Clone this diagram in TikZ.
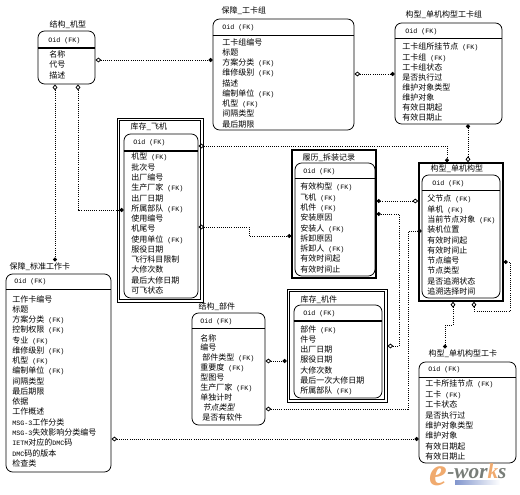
\documentclass[tikz,border=0pt]{standalone}
\usepackage{fontspec}
\usepackage{tikz}
\usetikzlibrary{arrows.meta}
\usetikzlibrary{fit}
\newfontfamily\cjk{Noto Sans CJK SC}
\newfontfamily\cjkslant[FakeSlant=0.25]{Noto Sans CJK SC}
\newfontfamily\monof{Liberation Mono}
\newfontfamily\logof{Liberation Serif}
\newcommand{\mn}[1]{{\monof\fontsize{5}{7.7}\selectfont #1}}
\newcommand{\fk}{\mn{\ (FK)}}
\definecolor{logoorange}{RGB}{240,170,110}
\definecolor{logogray}{RGB}{120,125,120}
\definecolor{logoblue}{RGB}{130,150,205}
\tikzset{
	card/.style={draw,rounded corners=5pt,inner sep=0pt,line width=0.6pt},
	frame/.style={draw,inner sep=0pt,line width=0.6pt},
	heavy/.style={draw,inner sep=0pt,line width=1.1pt},
	title/.style={anchor=west,inner sep=1pt,font=\cjk\fontsize{6}{7.7}\selectfont},
	rows/.style={anchor=north west,inner sep=0pt,align=left,font=\cjk\fontsize{6}{#1}\selectfont},
	rows/.default=7.7,
	oid/.style={anchor=west,inner sep=0pt,font=\monof\fontsize{5}{7.7}\selectfont},
	link/.style={densely dotted,line width=0.6pt},
	dia/.tip={Diamond[open,length=4.5pt,width=3.6pt,line width=0.6pt]},
	dot/.tip={Circle[length=3pt]}
}

\begin{document}
\begin{tikzpicture}[x=0.75pt,y=-0.75pt]
	\useasboundingbox (0,0) rectangle (520,495);

	% ==================================================
	% 1. PLAIN CARDS
	% ==================================================
	% jixing
	\node[card,fit={(38,31)(95,84)}] (jixing) {};
	\draw[line width=0.9pt] (jixing.west |- 0,48) -- (jixing.east |- 0,48);
	\node[title] (jixingT) at (48,25) {结构\_机型};
	\node[oid] (jixingO) at (48,40.5) {Oid (FK)};
	\node[rows] (jixingR) at (49,50.5) {名称\\代号\\描述};

	% gongkazu
	\node[card,fit={(213,19)(354,130)}] (gongkazu) {};
	\draw (gongkazu.west |- 0,35) -- (gongkazu.east |- 0,35);
	\node[title] (gongkazuT) at (220,11) {保障\_工卡组};
	\node[oid] (gongkazuO) at (222,28) {Oid (FK)};
	\node[rows] (gongkazuR) at (222,38) {工卡组编号\\标题\\方案分类\fk\\维修级别\fk\\描述\\编制单位\fk\\机型\fk\\间隔类型\\最后期限};

	% danjizu
	\node[card,fit={(395,23)(502,124)}] (danjizu) {};
	\draw (danjizu.west |- 0,38) -- (danjizu.east |- 0,38);
	\node[title] (danjizuT) at (404,15) {构型\_单机构型工卡组};
	\node[oid] (danjizuO) at (405,32) {Oid (FK)};
	\node[rows=7.6] (danjizuR) at (402,43) {工卡组所挂节点\fk\\工卡组\fk\\工卡组状态\\是否执行过\\维护对象类型\\维护对象\\有效日期起\\有效日期止};

	% bujian
	\node[card,fit={(192,313)(265,425)}] (bujian) {};
	\draw (bujian.west |- 0,328) -- (bujian.east |- 0,328);
	\node[title] (bujianT) at (197,307) {结构\_部件};
	\node[oid] (bujianO) at (200,322) {Oid (FK)};
	\node[rows=7.43] (bujianR) at (200,334) {名称\\编号\\\hspace{1.5pt}部件类型\fk\\重要度\fk\\型图号\\生产厂家\fk\\单独计时\\\hspace{1.5pt}{\cjkslant 节点类型}\\\hspace{1.5pt}是否有软件};

	% biaozhun
	\node[card,fit={(6,274)(111,472)}] (biaozhun) {};
	\draw (biaozhun.west |- 0,289) -- (biaozhun.east |- 0,289);
	\node[title] (biaozhunT) at (8,267) {保障\_标准工作卡};
	\node[oid] (biaozhunO) at (14,282) {Oid (FK)};
	\node[rows] (biaozhunR) at (12,295) {工作卡编号\\标题\\方案分类\fk\\控制权限\fk\\专业\fk\\维修级别\fk\\机型\fk\\编制单位\fk\\间隔类型\\最后期限\\依据\\工作概述\\\mn{MSG-3}工作分类\\\mn{MSG-3}失效影响分类编号\\\mn{IETM}对应的\mn{DMC}码\\\mn{DMC}码的版本\\检查类};

	% danjika
	\node[card,fit={(419,362)(516,463)}] (danjika) {};
	\draw (danjika.west |- 0,377) -- (danjika.east |- 0,377);
	\node[title] (danjikaT) at (427,354) {构型\_单机构型工卡};
	\node[oid] (danjikaO) at (428,370) {Oid (FK)};
	\node[rows=7.8] (danjikaR) at (425,380) {工卡所挂节点\fk\\工卡\fk\\工卡状态\\是否执行过\\维护对象类型\\维护对象\\有效日期起\\有效日期止};

	% ==================================================
	% 2. FRAMED CARDS
	% ==================================================
	% feiji
	\node[frame,fit={(117,118)(203,302)}] (feijiF) {};
	\node[frame,fit={(119.5,120.5)(200.5,299.5)}] (feijiG) {};
	\node[card,fit={(124,134)(198,298)}] (feiji) {};
	\draw[line width=0.9pt] (feiji.west |- 0,151) -- (feiji.east |- 0,151);
	\node[title] (feijiT) at (129,127) {库存\_飞机};
	\node[oid] (feijiO) at (133,143) {Oid (FK)};
	\node[rows] (feijiR) at (131,153) {机型\fk\\批次号\\出厂编号\\生产厂家\fk\\出厂日期\\所属部队\fk\\使用编号\\机尾号\\使用单位\fk\\服役日期\\飞行科目限制\\大修次数\\最后大修日期\\可飞状态};

	% lvli
	\node[heavy,fit={(292,150)(376,278)}] (lvliF) {};
	\node[card,fit={(295,163)(375,276)}] (lvli) {};
	\draw (lvli.west |- 0,178) -- (lvli.east |- 0,178);
	\node[title] (lvliT) at (301,158) {履历\_拆装记录};
	\node[oid] (lvliO) at (303,172) {Oid (FK)};
	\node[rows] (lvliR) at (300,183) {有效构型\fk\\飞机\fk\\机件\fk\\安装原因\\安装人\fk\\拆卸原因\\拆卸人\fk\\有效时间起\\有效时间止};

	% danji
	\node[heavy,fit={(419,163)(503,301)}] (danjiF) {};
	\node[card,fit={(422,175)(500,298)}] (danji) {};
	\draw (danji.west |- 0,190) -- (danji.east |- 0,190);
	\node[title] (danjiT) at (429,169) {构型\_单机构型};
	\node[oid] (danjiO) at (432,184) {Oid (FK)};
	\node[rows] (danjiR) at (427,195) {父节点\fk\\单机\fk\\当前节点对象\fk\\装机位置\\有效时间起\\有效时间止\\节点编号\\节点类型\\是否追溯状态\\追溯选择时间};

	% jijian
	\node[frame,fit={(287,289)(387,402)}] (jijianF) {};
	\node[frame,fit={(289.5,291.5)(384.5,399.5)}] (jijianG) {};
	\node[card,fit={(294,305)(382,398)}] (jijian) {};
	\draw[line width=0.9pt] (jijian.west |- 0,321) -- (jijian.east |- 0,321);
	\node[title] (jijianT) at (299,300) {库存\_机件};
	\node[oid] (jijianO) at (303,314) {Oid (FK)};
	\node[rows] (jijianR) at (300,325) {部件\fk\\件号\\出厂日期\\服役日期\\大修次数\\最后一次大修日期\\所属部队\fk};

	% ==================================================
	% 3. RELATIONS
	% ==================================================
	\draw[link,{dia}-{dot}] (jixing.east |- 0,60) -- (gongkazu.west |- 0,60);
	\draw[link,{dia}-{dot}] (jixing.south -| 55,0) -- (biaozhunT.north -| 55,0);
	\draw[link,{dia}-{dot}] (jixing.south -| 78,0) -- (78,210) -- (feiji.west |- 0,210);
	\draw[link,{dia}-{dot}] (feiji.east |- 0,146) -- (447,146) -- (danjiF.north -| 447,0);
	\draw[link,{dia}-{dot}] (feiji.east |- 0,227) -- (249,227) -- (249,236) -- (lvliF.west |- 0,236);
	\draw[link,{dia}-{dot}] (gongkazu.east |- 0,74) -- (danjizu.west |- 0,74);
	\draw[link,{dot}-{dia}] (danjizu.south -| 468,0) -- (danjiF.north -| 468,0);
	\draw[link,{dot}-{dia}] (lvliF.east |- 0,201) -- (danjiF.west |- 0,201);
	\draw[link,{dia}-{dot}] (jijianF.east |- 0,346) -- (399,346) -- (399,214) -- (lvliF.east |- 0,214);
	\draw[link,{dia}-{dot}] (bujian.east |- 0,361) -- (jijianF.west |- 0,361);
	\draw[link,{dia}-{dot}] (bujian.east |- 0,409) -- (408,409) -- (408,231) -- (danji.west |- 0,231);
	\draw[link,{dia}-{dot}] (danjiF.south -| 453,0) -- (453,325) -- (445,325) -- (danjikaT.north -| 445,0);
	\draw[link,{dia}-{dot}] (danjiF.south -| 474,0) -- (474,311) -- (510,311) -- (510,262) -- (danjiF.east |- 0,262);
	\draw[link,{dia}-{dot}] (biaozhun.east |- 0,439) -- (danjika.west |- 0,439);

	% ==================================================
	% 4. LOGO
	% ==================================================
	\fill[left color=logoblue,right color=white] (455,480) rectangle (500,484);
	\node[inner sep=0pt,text=logoorange,font=\logof\bfseries\itshape\fontsize{30}{30}\selectfont] (logoE) at (438,476) {e};
	\node[anchor=base west,inner sep=0pt,text=logogray,font=\logof\bfseries\itshape\fontsize{16}{16}\selectfont] (logoW) at (447,478) {-wor\textcolor{logoorange}{k}s};
\end{tikzpicture}
\end{document}
